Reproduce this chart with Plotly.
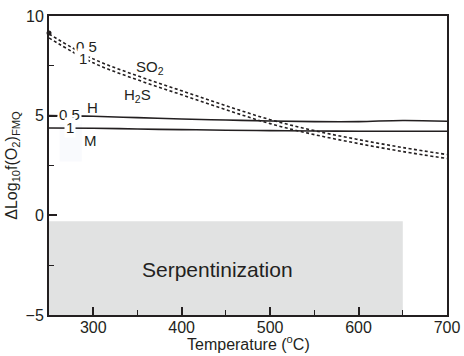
import plotly.graph_objects as go

T = [250, 300, 350, 400, 450, 500, 550, 600, 650, 700]
so2_05 = [9.1, 7.85, 7.0, 6.25, 5.5, 4.8, 4.25, 3.8, 3.4, 3.05]
so2_1 = [8.9, 7.65, 6.8, 6.05, 5.3, 4.6, 4.05, 3.6, 3.2, 2.85]
h_05 = [5.0, 4.97, 4.9, 4.83, 4.78, 4.73, 4.7, 4.7, 4.76, 4.72]
m_1 = [4.38, 4.37, 4.33, 4.3, 4.27, 4.25, 4.23, 4.22, 4.22, 4.22]

x_ticks = [300, 400, 500, 600, 700]
y_ticks = [-5, 0, 5, 10]

ink = "#231f20"
fig = go.Figure()

fig.add_shape(type="rect", x0=250, x1=650, y0=-5, y1=-0.3, fillcolor="#e1e2e2",
              line=dict(width=0), layer="below")
fig.add_shape(type="rect", x0=262, x1=287, y0=2.7, y1=5.4, fillcolor="#f9fafd",
              line=dict(width=0), layer="below")

for ys in (so2_05, so2_1):
    fig.add_trace(go.Scatter(x=T, y=ys, mode="lines", line=dict(color=ink, width=1.6, dash="3px,2.5px", shape="spline"),
                             showlegend=False, hoverinfo="skip"))
for ys in (h_05, m_1):
    fig.add_trace(go.Scatter(x=T, y=ys, mode="lines", line=dict(color=ink, width=1.6, shape="spline"),
                             showlegend=False, hoverinfo="skip"))
fig.add_trace(go.Scatter(x=[250], y=[9.15], mode="markers", marker=dict(color=ink, size=5),
                         showlegend=False, hoverinfo="skip", cliponaxis=False))

def ann(x, y, text, size=15, bg=None):
    fig.add_annotation(x=x, y=y, text=text, showarrow=False, font=dict(size=size, color=ink),
                       bgcolor=bg, borderpad=1)

ann(292, 8.45, "0.5", bg="white")
ann(288, 7.85, "1", bg="white")
ann(364, 7.4, "SO<sub>2</sub>")
ann(350, 6.0, "H<sub>2</sub>S")
ann(273, 5.05, "0.5", bg="white")
ann(274, 4.43, "1", bg="white")
ann(299, 5.4, "H")
ann(297, 3.75, "M")
ann(440, -2.7, "Serpentinization", size=21)

fig.add_annotation(x=0.5, y=-0.094, xref="paper", yref="paper", yanchor="middle",
                   text="Temperature (<sup>o</sup>C)", showarrow=False,
                   font=dict(size=16, color=ink))

axis_common = dict(showline=True, linecolor=ink, linewidth=2, mirror=True, ticks="inside",
                   tickcolor=ink, tickwidth=1.5, ticklen=8, showgrid=False, zeroline=False,
                   automargin=False,
                   tickfont=dict(size=16, color=ink, family="Liberation Sans, Arial"))
fig.update_xaxes(range=[250, 700], tickvals=x_ticks, ticklabelstandoff=-3,
                 minor=dict(ticks="inside", ticklen=5, tickcolor=ink, tickwidth=1, dtick=50, tick0=250),
                 **axis_common)
fig.update_yaxes(range=[-5, 10], tickvals=y_ticks,
                 minor=dict(ticks="inside", ticklen=5, tickcolor=ink, tickwidth=1, dtick=2.5, tick0=0),
                 title=dict(text="ΔLog<sub>10</sub>f(O<sub>2</sub>)<sub>FMQ</sub>", font=dict(size=16, color=ink), standoff=4),
                 **axis_common)
fig.update_layout(width=464, height=356, margin=dict(l=49, r=17, t=16, b=41),
                  plot_bgcolor="white", paper_bgcolor="white",
                  font=dict(family="Liberation Sans, Arial", color=ink))
fig.write_html("out.html", config={"displayModeBar": False},
               post_script="document.body.style.margin='0px';")
